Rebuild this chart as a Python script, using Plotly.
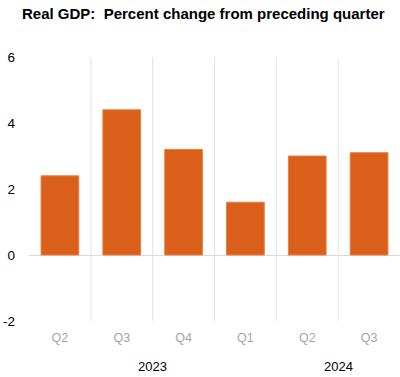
import plotly.graph_objects as go

quarters = ["Q2", "Q3", "Q4", "Q1", "Q2", "Q3"]
values = [2.4, 4.4, 3.2, 1.6, 3.0, 3.1]
years = ["2023", "2024"]
year_pos = [1.5, 4.5]
y_ticks = [-2, 0, 2, 4, 6]
y_tick_text = ["-2", "0", "2", "4", "6"]

x = list(range(len(values)))

fig = go.Figure()
fig.add_trace(go.Bar(
    x=x, y=values, width=0.61,
    marker=dict(color="#D95F1A", line=dict(color="#E8803F", width=1)),
    showlegend=False, hoverinfo="skip",
))

for i in range(len(values) - 1):
    fig.add_shape(type="line", x0=i + 0.5, x1=i + 0.5, y0=-2, y1=6,
                  xref="x", yref="y", line=dict(color="#e3e3e3", width=1), layer="below")

for yr, xp in zip(years, year_pos):
    fig.add_annotation(x=xp, y=-0.174, xref="x", yref="paper", text=yr,
                       showarrow=False, xanchor="center", yanchor="middle",
                       font=dict(family="Liberation Sans, Arial", size=13, color="#000000"))

fig.update_layout(
    width=400, height=377,
    margin=dict(l=29, r=0, t=57, b=56, autoexpand=False),
    plot_bgcolor="white", paper_bgcolor="white",
    title=dict(text="<b>Real GDP:  Percent change from preceding quarter</b>",
               x=22/400, xanchor="left", xref="container",
               y=1 - 14/377, yanchor="middle", yref="container",
               font=dict(family="Liberation Sans, Arial", size=15, color="#000000")),
    xaxis=dict(range=[-0.5, 5.5], tickvals=x, ticktext=quarters, showgrid=False,
               zeroline=False, showline=False, ticks="", automargin=False,
               ticklabelstandoff=7,
               tickfont=dict(family="Liberation Sans, Arial", size=12.5, color="#a6a6a6")),
    yaxis=dict(range=[-2, 6], tickvals=y_ticks, ticktext=y_tick_text, showgrid=False,
               zeroline=True, automargin=False,
               zerolinecolor="#d9d9d9", zerolinewidth=1, showline=False, ticks="",
               ticklabelstandoff=13,
               tickfont=dict(family="Liberation Sans, Arial", size=13.5, color="#000000")),
    bargap=0.39,
)

fig.write_html("out.html", config={"displayModeBar": False},
               post_script="document.body.style.margin='0';")
